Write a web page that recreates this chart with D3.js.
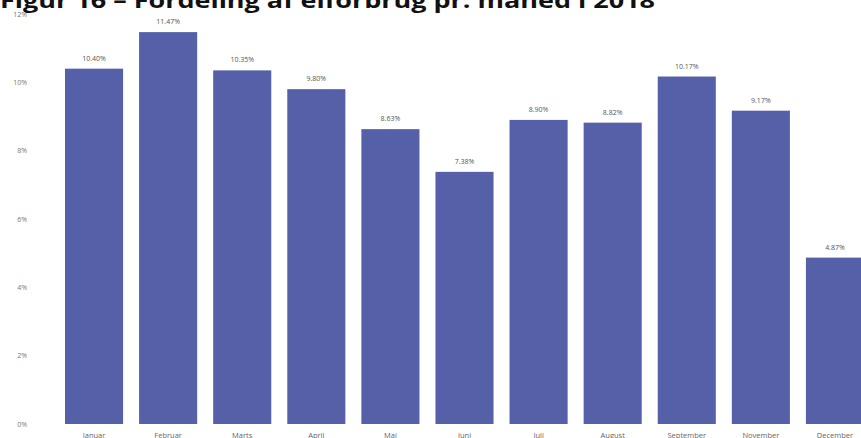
<!DOCTYPE html>
<html>
<head>
<meta charset="utf-8">
<script src="https://cdn.jsdelivr.net/npm/d3@7"></script>
<style>
  body { margin: 0; background: #fff; }
  svg { display: block; }
</style>
</head>
<body>
<svg id="chart" width="861" height="438"></svg>
<script>
// Fordeling af elforbrug pr. maaned (oktober mangler i kilden)
const months = ['Januar', 'Februar', 'Marts', 'April', 'Maj', 'Juni', 'Juli',
    'August', 'September', 'November', 'December'];
const shares = [10.40, 11.47, 10.35, 9.80, 8.63, 7.38, 8.90, 8.82, 10.17, 9.17, 4.87];
const yTicks = [0, 2, 4, 6, 8, 10, 12];

let svg = d3.select('#chart');

let x = d3.scaleBand()
    .domain(months)
    .range([57, 872])
    .paddingInner(0.216)
    .paddingOuter(0.108);

let y = d3.scaleLinear()
    .domain([0, 12])
    .range([424, 14]);

// Title (cut off at the top in the scan)
svg.append('text')
    .attr('x', 0)
    .attr('y', 8)
    .attr('font-family', 'Open Sans, DejaVu Sans, sans-serif')
    .attr('font-weight', 'bold')
    .attr('font-size', 21)
    .attr('fill', '#111')
    .attr('textLength', 655)
    .attr('lengthAdjust', 'spacingAndGlyphs')
    .text('Figur 16 – Fordeling af elforbrug pr. måned i 2018');

// Y axis labels, no line
let yAxis = d3.axisLeft(y)
    .tickValues(yTicks)
    .tickSize(0)
    .tickPadding(0)
    .tickFormat(d => d + '%');

svg.append('g')
    .attr('transform', 'translate(27,0)')
    .call(yAxis)
    .call(g => g.select('.domain').remove())
    .selectAll('text')
    .attr('font-family', 'Open Sans, sans-serif')
    .attr('font-size', 7)
    .attr('fill', '#777');

// Bars
svg.append('g')
    .selectAll('rect')
    .data(months)
    .join('rect')
    .attr('x', d => x(d))
    .attr('y', (d, i) => y(shares[i]))
    .attr('width', x.bandwidth())
    .attr('height', (d, i) => y(0) - y(shares[i]))
    .attr('fill', '#5560a8');

// Value labels
svg.append('g')
    .selectAll('text')
    .data(months)
    .join('text')
    .attr('x', d => x(d) + x.bandwidth() / 2)
    .attr('y', (d, i) => y(shares[i]) - 8)
    .attr('text-anchor', 'middle')
    .attr('font-family', 'Open Sans, sans-serif')
    .attr('font-size', 7)
    .attr('fill', '#555')
    .text((d, i) => shares[i].toFixed(2) + '%');

// Category axis
let xAxis = d3.axisBottom(x).tickSize(0).tickPadding(9);

svg.append('g')
    .attr('transform', 'translate(0,424)')
    .call(xAxis)
    .call(g => g.select('.domain').remove())
    .selectAll('text')
    .attr('font-family', 'Open Sans, sans-serif')
    .attr('font-size', 7.5)
    .attr('fill', '#666');
</script>
</body>
</html>
